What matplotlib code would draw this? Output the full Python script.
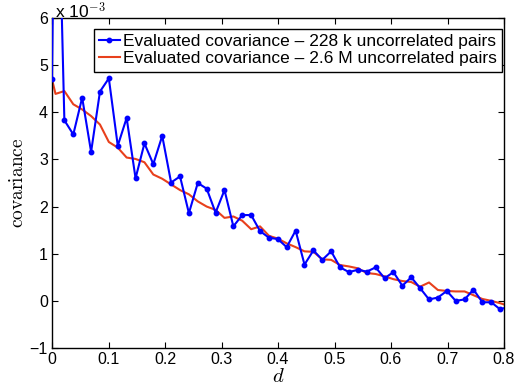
"""
Covariance vs distance d: 228 k pairs (blue, noisy) vs 2.6 M pairs (red, smooth).
MATLAB-style figure, values in units of 1e-3.
"""
import matplotlib
matplotlib.use('Agg')
import matplotlib.pyplot as plt

plt.rcParams['font.family'] = ['Liberation Sans', 'DejaVu Sans']
plt.rcParams['mathtext.fontset'] = 'cm'

# distance grid (first sample at 0, then bins)
d = [0.0, 0.0062, 0.0219, 0.0377, 0.0534, 0.0692, 0.0849, 0.1006, 0.1164, 0.1321,
     0.1479, 0.1636, 0.1793, 0.1951, 0.2108, 0.2266, 0.2423, 0.2580, 0.2738, 0.2895,
     0.3053, 0.3210, 0.3367, 0.3525, 0.3682, 0.3840, 0.3997, 0.4154, 0.4312, 0.4469,
     0.4627, 0.4784, 0.4941, 0.5099, 0.5256, 0.5414, 0.5571, 0.5728, 0.5886, 0.6043,
     0.6201, 0.6358, 0.6515, 0.6673, 0.6830, 0.6988, 0.7145, 0.7302, 0.7460, 0.7617,
     0.7775, 0.7932, 0.8089]

# covariance x 1e-3
cov_228k = [4.70, 11.5, 3.83, 3.53, 4.31, 3.16, 4.44, 4.72, 3.29, 3.88,
            2.60, 3.34, 2.90, 3.50, 2.51, 2.64, 1.86, 2.50, 2.38, 1.87,
            2.35, 1.58, 1.82, 1.82, 1.48, 1.34, 1.31, 1.14, 1.49, 0.77,
            1.07, 0.87, 1.05, 0.71, 0.61, 0.66, 0.62, 0.71, 0.48, 0.61,
            0.32, 0.50, 0.27, 0.03, 0.07, 0.21, 0.00, 0.03, 0.24, -0.03,
            -0.03, -0.18, -0.12]
cov_26M = [4.70, 4.39, 4.45, 4.17, 4.06, 3.92, 3.74, 3.37, 3.25, 3.04,
           3.01, 2.94, 2.68, 2.59, 2.47, 2.35, 2.26, 2.11, 2.00, 1.93,
           1.76, 1.79, 1.70, 1.52, 1.58, 1.38, 1.32, 1.22, 1.14, 1.05,
           1.04, 0.88, 0.87, 0.76, 0.73, 0.69, 0.59, 0.57, 0.52, 0.46,
           0.42, 0.40, 0.30, 0.39, 0.23, 0.21, 0.20, 0.20, 0.12, 0.04,
           0.00, -0.05, -0.11]

xticks = [0, 0.1, 0.2, 0.3, 0.4, 0.5, 0.6, 0.7, 0.8]
xticklabels = ['0', '0.1', '0.2', '0.3', '0.4', '0.5', '0.6', '0.7', '0.8']
yticks = [-1, 0, 1, 2, 3, 4, 5, 6]

fig = plt.figure(figsize=(5.21, 3.92), dpi=100, facecolor='white')
ax = fig.add_axes([52/521, 44/392, 452/521, 330/392])

ax.plot(d, cov_228k, '-', color='#0000ff', lw=1.5, marker='o', ms=3.2,
        label='Evaluated covariance \u2013 228 k uncorrelated pairs', zorder=3)
ax.plot(d, cov_26M, '-', color='#e8401c', lw=1.5,
        label='Evaluated covariance \u2013 2.6 M uncorrelated pairs', zorder=2)

ax.set_xlim(0, 0.8)
ax.set_ylim(-1, 6)
ax.set_xticks(xticks)
ax.set_xticklabels(xticklabels)
ax.set_yticks(yticks)
ax.set_yticklabels(['\u22121' if v < 0 else str(v) for v in yticks])
ax.tick_params(direction='in', length=4, width=0.8, top=True, right=True,
               labelsize=11.5, pad=3, colors='black')
for s in ax.spines.values():
    s.set_linewidth(1.0)

ax.set_xlabel(r'$d$', fontsize=15, labelpad=0)
ax.set_ylabel(r'$\mathrm{covariance}$', fontsize=14, labelpad=2)

# MATLAB exponent label
ax.text(3/452, 1.0, r'x 10$^{-3}$', transform=ax.transAxes, ha='left', va='baseline',
        fontsize=12.5)

leg = ax.legend(loc='upper right', bbox_to_anchor=(0.996, 0.967), fontsize=12.5,
                frameon=True, fancybox=False, edgecolor='black', framealpha=1,
                handlelength=1.2, handletextpad=0.2, borderpad=0.3,
                labelspacing=0.12, borderaxespad=0)
leg.get_frame().set_linewidth(1.0)

plt.savefig('out.png', dpi=100, facecolor='white')
